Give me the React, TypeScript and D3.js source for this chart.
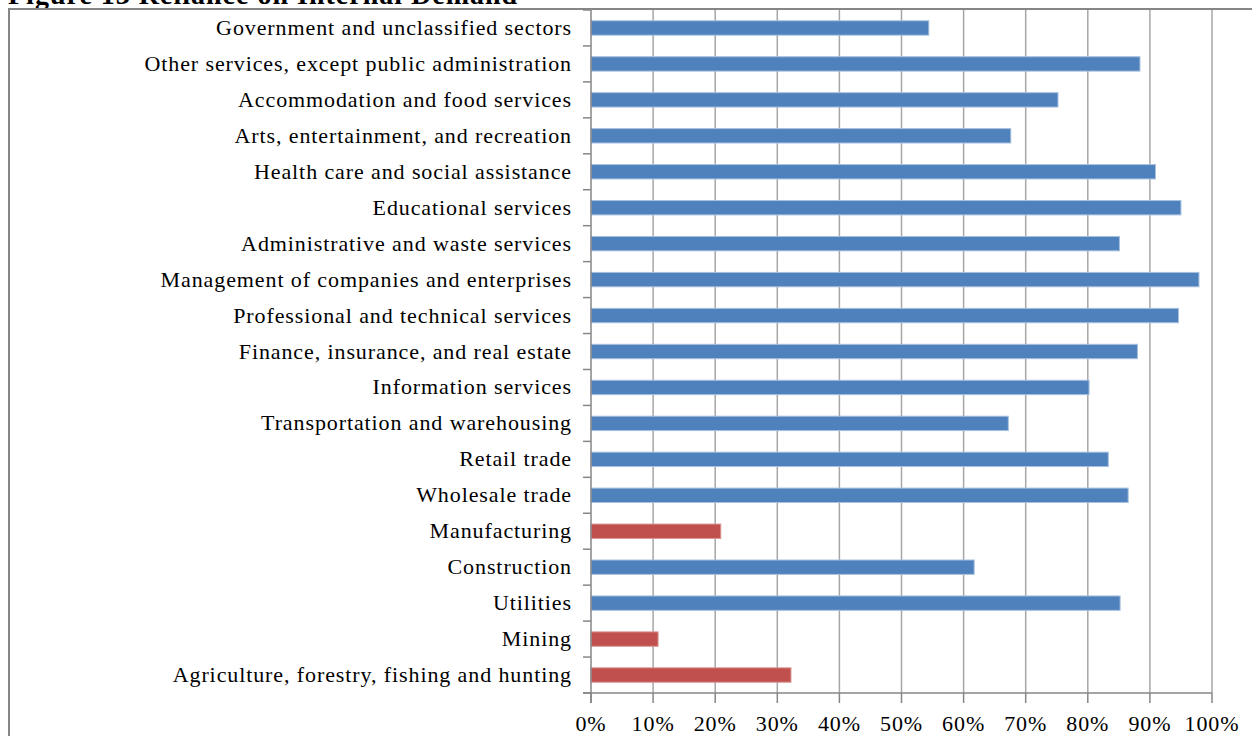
import React from "react";
import * as d3 from "d3";

// Sectors from bottom (first) to top (last)
const sectors = [
  "Agriculture, forestry, fishing and hunting",
  "Mining",
  "Utilities",
  "Construction",
  "Manufacturing",
  "Wholesale trade",
  "Retail trade",
  "Transportation and warehousing",
  "Information services",
  "Finance, insurance, and real estate",
  "Professional and technical services",
  "Management of companies and enterprises",
  "Administrative and waste services",
  "Educational services",
  "Health care and social assistance",
  "Arts, entertainment, and recreation",
  "Accommodation and food services",
  "Other services, except public administration",
  "Government and unclassified sectors",
];

// Share of demand met internally (0..1)
const reliance = [
  0.322, 0.108, 0.852, 0.617, 0.209, 0.865, 0.833, 0.672, 0.802, 0.88,
  0.946, 0.979, 0.851, 0.95, 0.909, 0.676, 0.752, 0.884, 0.544,
];

// Goods-producing sectors drawn in red
const highlighted = ["Agriculture, forestry, fishing and hunting", "Mining", "Manufacturing"];

const xTicks = [0, 0.1, 0.2, 0.3, 0.4, 0.5, 0.6, 0.7, 0.8, 0.9, 1];

const W = 1252;
const H = 736;
const margin = { top: 10, left: 591, right: 40, bottom: 43 };

const BLUE = "#4F81BD";
const RED = "#C0504D";
const GRID = "#a6a6a6";
const AXIS = "#868686";
const FONT = "'Liberation Serif', 'Times New Roman', serif";

export default function App() {
  const x = d3.scaleLinear().domain([0, 1]).range([margin.left, W - margin.right]);
  // top of chart holds the last sector, like Excel's reversed bar order
  const y = d3
    .scaleBand<string>()
    .domain([...sectors].reverse())
    .range([margin.top, H - margin.bottom])
    .paddingInner(0.6)
    .paddingOuter(0.3);
  const step = y.step();
  const bandTop = (s: string) => y(s)! - (step - y.bandwidth()) / 2;
  const y0 = margin.top;
  const y1 = H - margin.bottom;
  const fmt = d3.format(".0%");

  return (
    <svg width={W} height={H} style={{ position: "absolute", left: 0, top: 0, background: "#fff" }}>
      {/* title, mostly cut off at the top */}
      <text x={8} y={4} fontFamily={FONT} fontWeight={700} fontSize={28} letterSpacing={1} fill="#000">
        Figure 13 Reliance on Internal Demand
      </text>

      {/* chart frame */}
      <rect x={9} y={9} width={W + 20} height={H + 20} fill="none" stroke={AXIS} strokeWidth={2} />

      {/* vertical gridlines */}
      {xTicks.slice(1).map((t) => (
        <line key={t} x1={x(t)} x2={x(t)} y1={y0} y2={y1} stroke={GRID} strokeWidth={1.5} />
      ))}

      {/* bars */}
      {sectors.map((s, i) => (
        <rect
          key={s}
          x={x(0)}
          y={y(s)}
          width={x(reliance[i]) - x(0)}
          height={y.bandwidth()}
          fill={highlighted.includes(s) ? RED : BLUE}
          stroke={highlighted.includes(s) ? "#d99694" : "#a7c0de"}
          strokeWidth={1}
        />
      ))}

      {/* y axis */}
      <line x1={x(0)} x2={x(0)} y1={y0} y2={y1 + 10} stroke={AXIS} strokeWidth={1.5} />
      {sectors.map((s) => (
        <line key={s} x1={x(0) - 8} x2={x(0)} y1={bandTop(s) + step} y2={bandTop(s) + step} stroke={AXIS} strokeWidth={1.5} />
      ))}
      <line x1={x(0) - 8} x2={x(0)} y1={y0} y2={y0} stroke={AXIS} strokeWidth={1.5} />
      {sectors.map((s) => (
        <text
          key={s}
          x={x(0) - 19}
          y={y(s)! + y.bandwidth() / 2 + 7}
          textAnchor="end"
          fontFamily={FONT}
          fontSize={22}
          letterSpacing={0.9}
          fill="#000"
        >
          {s}
        </text>
      ))}

      {/* x axis */}
      <line x1={x(0) - 8} x2={x(1)} y1={y1} y2={y1} stroke={AXIS} strokeWidth={1.5} />
      {xTicks.map((t) => (
        <g key={t}>
          <line x1={x(t)} x2={x(t)} y1={y1} y2={y1 + 10} stroke={AXIS} strokeWidth={1.5} />
          <text x={x(t)} y={731} textAnchor="middle" fontFamily={FONT} fontSize={22} letterSpacing={0.9} fill="#000">
            {fmt(t)}
          </text>
        </g>
      ))}
    </svg>
  );
}
